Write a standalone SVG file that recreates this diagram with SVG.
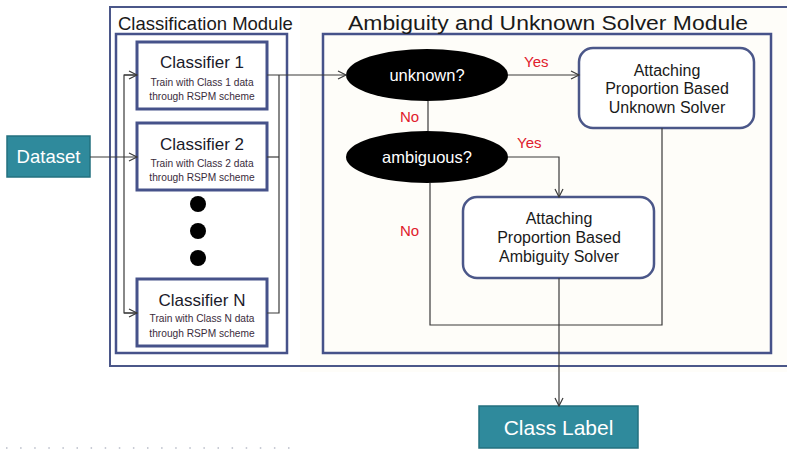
<svg xmlns="http://www.w3.org/2000/svg" width="787" height="450" viewBox="0 0 787 450">
<style>
  .frame{fill:none;stroke:#4b5789;stroke-width:2}
  .mod{fill:none;stroke:#46528a;stroke-width:2.5}
  .cls{fill:#fff;stroke:#46528a;stroke-width:3}
  .solver{fill:#fff;stroke:#4b5789;stroke-width:2.5}
  .teal{fill:#2f8a9c;stroke:#23707f;stroke-width:1.5}
  .conn{fill:none;stroke:#3a3a3a;stroke-width:1.2}
  .t{font-family:"Liberation Sans",Arial,sans-serif}
  .title{font-size:18.5px;fill:#1a1a1a}
  .ctitle{font-size:17px;fill:#1a1a2a;text-anchor:middle}
  .csub{font-size:10.2px;fill:#3a2c3c;text-anchor:middle}
  .stext{font-size:16px;fill:#1a1a1a;text-anchor:middle}
  .white{fill:#fff;text-anchor:middle}
  .red{font-size:15px;fill:#e0202c}
</style>
<defs>
  <marker id="arr" markerWidth="12" markerHeight="12" refX="10" refY="5" orient="auto" markerUnits="userSpaceOnUse">
    <polyline points="2,1 10,5 2,9" fill="none" stroke="#3a3a3a" stroke-width="1.2"/>
  </marker>
</defs>
<rect x="0" y="0" width="787" height="450" fill="#fff"/>
<rect x="300" y="0" width="487" height="372" fill="#fefdf9"/>

<g id="outer-frame">
  <rect class="frame" x="110" y="7" width="690" height="359"/>
</g>

<g id="classification-module">
  <rect class="mod" x="116" y="34" width="171" height="319"/>
  <text class="t title" x="118" y="30">Classification Module</text>
</g>

<g id="ambiguity-module">
  <rect class="mod" x="323" y="34" width="448" height="319"/>
  <text class="t title" x="348" y="30" textLength="400" lengthAdjust="spacingAndGlyphs" style="font-size:20px">Ambiguity and Unknown Solver Module</text>
</g>

<g id="dataset">
  <rect class="teal" x="7" y="136" width="83" height="41"/>
  <text class="t white" x="48.5" y="163" style="font-size:18.5px">Dataset</text>
</g>

<g id="classifier-1">
  <rect class="cls" x="137" y="42" width="130" height="67"/>
  <text class="t ctitle" x="202" y="68">Classifier 1</text>
  <text class="t csub" x="202" y="86">Train with Class 1 data</text>
  <text class="t csub" x="202" y="100">through RSPM scheme</text>
</g>

<g id="classifier-2">
  <rect class="cls" x="137" y="123" width="130" height="67"/>
  <text class="t ctitle" x="202" y="150">Classifier 2</text>
  <text class="t csub" x="202" y="167">Train with Class 2 data</text>
  <text class="t csub" x="202" y="181">through RSPM scheme</text>
</g>

<g id="ellipsis-dots" fill="#000">
  <circle cx="198" cy="204" r="8"/>
  <circle cx="198" cy="231" r="8"/>
  <circle cx="198" cy="258" r="8"/>
</g>

<g id="classifier-n">
  <rect class="cls" x="137" y="279" width="130" height="67"/>
  <text class="t ctitle" x="202" y="306">Classifier N</text>
  <text class="t csub" x="202" y="322">Train with Class N data</text>
  <text class="t csub" x="202" y="337">through RSPM scheme</text>
</g>

<g id="unknown-decision">
  <ellipse cx="427" cy="75" rx="81" ry="26" fill="#000"/>
  <text class="t white" x="427" y="81" style="font-size:16.5px">unknown?</text>
</g>

<g id="ambiguous-decision">
  <ellipse cx="427" cy="157" rx="81" ry="26" fill="#000"/>
  <text class="t white" x="427" y="163" style="font-size:16.5px">ambiguous?</text>
</g>

<g id="unknown-solver">
  <rect class="solver" x="579" y="48" width="175" height="80" rx="14"/>
  <text class="t stext" x="667" y="76">Attaching</text>
  <text class="t stext" x="667" y="94">Proportion Based</text>
  <text class="t stext" x="667" y="113">Unknown Solver</text>
</g>

<g id="ambiguity-solver">
  <rect class="solver" x="463" y="197" width="191" height="81" rx="14"/>
  <text class="t stext" x="559" y="224">Attaching</text>
  <text class="t stext" x="559" y="243">Proportion Based</text>
  <text class="t stext" x="559" y="262">Ambiguity Solver</text>
</g>

<g id="class-label">
  <rect class="teal" x="479" y="406" width="159" height="42"/>
  <text class="t white" x="558.5" y="435" style="font-size:21px">Class Label</text>
</g>

<g id="connectors">
  <line class="conn" x1="90" y1="157" x2="137" y2="157" marker-end="url(#arr)"/>
  <polyline class="conn" points="137,75 124,75 124,313 137,313"/>
  <line class="conn" x1="124" y1="75" x2="137" y2="75" marker-end="url(#arr)"/>
  <line class="conn" x1="124" y1="313" x2="137" y2="313" marker-end="url(#arr)"/>
  <polyline class="conn" points="267,313 279,313 279,75"/>
  <line class="conn" x1="267" y1="157" x2="279" y2="157"/>
  <line class="conn" x1="267" y1="75" x2="346" y2="75" marker-end="url(#arr)"/>
  <line class="conn" x1="508" y1="75" x2="579" y2="75" marker-end="url(#arr)"/>
  <line class="conn" x1="428" y1="101" x2="428" y2="131"/>
  <polyline class="conn" points="508,157 559,157 559,197" marker-end="url(#arr)"/>
  <polyline class="conn" points="430,183 430,325 662,325 662,128"/>
  <line class="conn" x1="559" y1="278" x2="559" y2="406" marker-end="url(#arr)"/>
  <text class="t red" x="524" y="67">Yes</text>
  <text class="t red" x="400" y="122">No</text>
  <text class="t red" x="517" y="148">Yes</text>
  <text class="t red" x="400" y="236">No</text>
</g>

<line x1="6" y1="448" x2="300" y2="448" stroke="#b8bcc8" stroke-width="1.5" stroke-dasharray="1.5 12.6"/>
</svg>
